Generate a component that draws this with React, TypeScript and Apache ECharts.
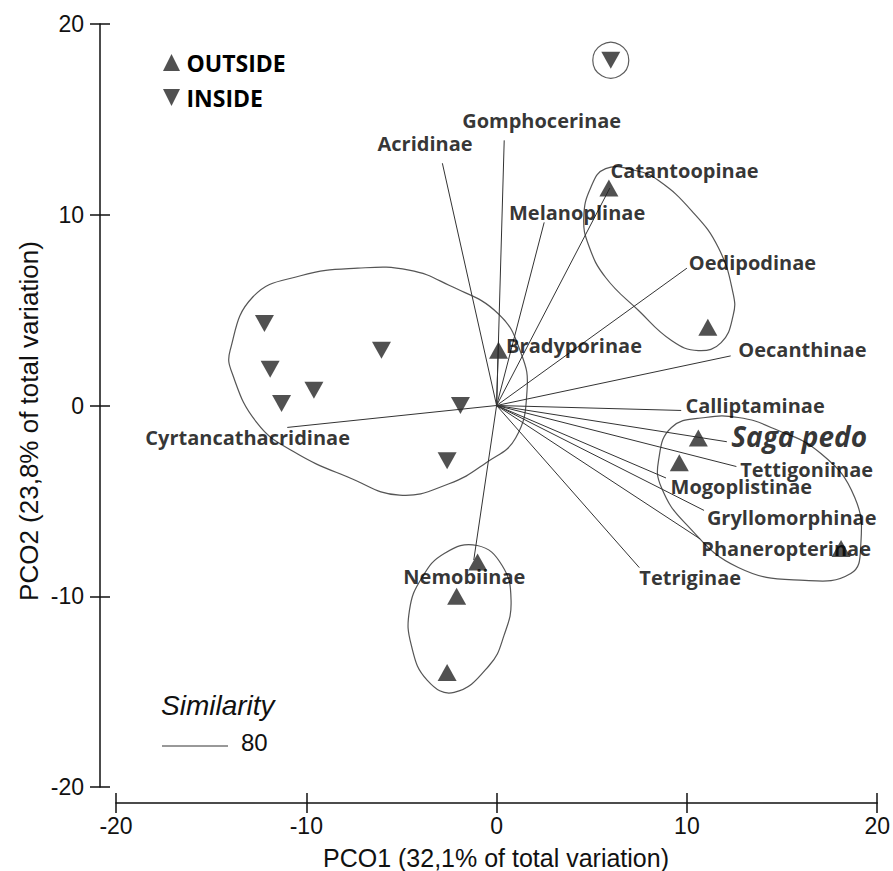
import React, { useEffect, useRef } from "react";
import * as echarts from "echarts";

// ---- data (PCO1, PCO2) ----
const outsidePoints: [number, number][] = [
  [5.9, 11.4], [11.1, 4.1], [0.1, 2.9], [10.6, -1.7], [9.6, -3.0],
  [18.1, -7.5], [-1.0, -8.2], [-2.1, -10.0], [-2.6, -14.0],
];
const insidePoints: [number, number][] = [
  [-12.2, 4.3], [-11.9, 1.9], [-11.3, 0.1], [-9.6, 0.8], [-6.05, 2.9],
  [-1.9, 0.0], [-2.6, -2.9], [6.0, 18.1],
];
const circledPoints: [number, number][] = [[6.0, 18.1]];

const vectorNames = [
  "Acridinae", "Gomphocerinae", "Melanoplinae", "Catantoopinae", "Oedipodinae",
  "Oecanthinae", "Bradyporinae", "Calliptaminae", "Saga pedo", "Tettigoniinae",
  "Mogoplistinae", "Gryllomorphinae", "Phaneropterinae", "Tetriginae",
  "Nemobiinae", "Cyrtancathacridinae",
];
const vectorEnds: [number, number][] = [
  [-2.85, 12.7], [0.4, 13.9], [2.5, 9.6], [5.95, 11.4], [10.0, 7.2],
  [12.3, 2.6], [0.1, 3.4], [9.7, -0.26], [12.1, -1.9], [12.6, -3.2],
  [8.9, -3.8], [10.9, -5.5], [10.7, -7.0], [7.5, -8.5],
  [-1.2, -8.1], [-11.0, -1.15],
];
const labelAnchors: [number, number][] = [
  [-6.26, 13.75], [-1.81, 14.94], [0.65, 10.12], [5.99, 12.32], [10.1, 7.5],
  [12.7, 2.94], [0.5, 3.14], [9.92, 0.0], [12.33, -1.6], [12.8, -3.35],
  [9.14, -4.25], [11.05, -5.87], [10.76, -7.49], [7.5, -9.02],
  [-4.9, -8.96], [-18.46, -1.68],
];

// similarity (80) contours
const contourLeft: [number, number][] = [
  [-14.0, 2.9], [-12.8, 5.7], [-10.3, 6.8], [-7.3, 7.2], [-4.6, 7.1],
  [-2.5, 6.3], [0.1, 4.8], [1.3, 2.7], [1.6, 0.8], [1.0, -1.7],
  [-0.55, -3.0], [-2.5, -4.1], [-5.1, -4.7], [-7.7, -3.8], [-10.7, -2.4],
  [-12.6, -0.9], [-13.9, 1.7],
];
const contourTop: [number, number][] = [
  [5.73, 12.42], [4.95, 11.43], [4.58, 9.85], [4.84, 8.39], [5.73, 6.71],
  [7.46, 4.98], [9.19, 3.41], [10.6, 2.88], [11.8, 3.3], [12.43, 4.72],
  [12.43, 5.87], [11.65, 8.28], [10.24, 10.22], [8.51, 11.79], [7.3, 12.32],
];
const contourRight: [number, number][] = [
  [10.97, -0.63], [9.19, -1.15], [8.51, -2.88], [8.66, -4.3], [9.92, -6.18],
  [12.7, -8.49], [16.2, -9.17], [18.61, -8.81], [19.13, -7.44], [18.82, -4.82],
  [17.04, -2.52], [14.42, -1.15], [12.7, -0.63],
];
const contourBottom: [number, number][] = [
  [-1.02, -7.34], [0.29, -8.39], [0.76, -10.22], [0.39, -12.05], [-0.39, -13.63],
  [-2.23, -15.04], [-3.64, -14.41], [-4.48, -12.58], [-4.58, -10.74], [-3.95, -9.07],
  [-2.75, -7.76],
];
const contours = [contourLeft, contourTop, contourRight, contourBottom];

const xTitle = "PCO1 (32,1% of total variation)";
const yTitle = "PCO2 (23,8% of total variation)";
const similarityTitle = "Similarity";
const similarityLevel = "80";

const UP = "path://M5,0L10,10L0,10Z";
const DOWN = "path://M0,0L10,0L5,10Z";
const MARK = "#262626";
const AXIS_FONT = "'Liberation Sans', Arial, sans-serif";
const LABEL_FONT = "'Open Sans', 'Noto Sans', sans-serif";

export default function App() {
  const ref = useRef<HTMLDivElement>(null);
  useEffect(() => {
    if (!ref.current) return;
    const chart = echarts.init(ref.current, undefined, { renderer: "svg" });
    const axisCommon = {
      type: "value" as const,
      min: -20,
      max: 20,
      interval: 10,
      splitLine: { show: false },
    };
    const tickStyle = { color: "#111", width: 1.5 };
    const option: any = {
      animation: false,
      backgroundColor: "#ffffff",
      grid: { left: 116, right: 13, top: 24, bottom: 84 },
      xAxis: [
        {
          ...axisCommon,
          position: "bottom",
          offset: 16,
          axisLine: { show: true, onZero: false, lineStyle: tickStyle },
          axisTick: { show: true, inside: false, length: 10, lineStyle: tickStyle },
          axisLabel: { fontFamily: AXIS_FONT, fontSize: 23, color: "#111", margin: 11 },
        },
        {
          ...axisCommon,
          position: "bottom",
          offset: 16,
          axisLine: { show: false, onZero: false },
          axisTick: { show: true, inside: true, length: 10, lineStyle: tickStyle },
          axisLabel: { show: false },
        },
      ],
      yAxis: [
        {
          ...axisCommon,
          position: "left",
          offset: 16,
          axisLine: { show: true, onZero: false, lineStyle: tickStyle },
          axisTick: { show: true, inside: false, length: 10, lineStyle: tickStyle },
          axisLabel: { fontFamily: AXIS_FONT, fontSize: 23, color: "#111", margin: 16 },
        },
        {
          ...axisCommon,
          position: "left",
          offset: 16,
          axisLine: { show: false, onZero: false },
          axisTick: { show: true, inside: true, length: 10, lineStyle: tickStyle },
          axisLabel: { show: false },
        },
      ],
      legend: {
        data: ["OUTSIDE", "INSIDE"],
        orient: "vertical",
        left: 158,
        top: 46,
        itemWidth: 20,
        itemHeight: 17,
        itemGap: 12,
        textStyle: { fontFamily: LABEL_FONT, fontWeight: "bold", fontSize: 23, color: "#000" },
      },
      series: [
        {
          type: "custom",
          name: "contours",
          silent: true,
          data: contours.map((_, i) => [i, 0]),
          renderItem: (params: any, api: any) => {
            const pts = contours[params.dataIndex].map((p) => api.coord(p));
            return {
              type: "polygon",
              shape: { points: pts, smooth: 0.45 },
              style: { fill: "none", stroke: "#555", lineWidth: 1.2 },
            };
          },
          z: 1,
        },
        {
          type: "lines",
          name: "vectors",
          coordinateSystem: "cartesian2d",
          silent: true,
          data: vectorEnds.map((e) => ({ coords: [[0, 0], e] })),
          lineStyle: { color: "#333", width: 1, opacity: 1 },
          z: 2,
        },
        {
          type: "scatter",
          name: "OUTSIDE",
          symbol: UP,
          symbolSize: [19, 17],
          itemStyle: { color: MARK },
          data: outsidePoints,
          z: 3,
        },
        {
          type: "scatter",
          name: "INSIDE",
          symbol: DOWN,
          symbolSize: [19, 17],
          itemStyle: { color: MARK },
          data: insidePoints,
          z: 3,
        },
        {
          type: "scatter",
          name: "circled",
          symbol: "circle",
          symbolSize: 36,
          itemStyle: { color: "none", borderColor: "#333", borderWidth: 1.2 },
          data: circledPoints,
          z: 3,
        },
        {
          type: "scatter",
          name: "labels",
          symbolSize: 0,
          silent: true,
          data: vectorNames.map((n, i) => ({
            name: n,
            value: labelAnchors[i],
            label:
              n === "Saga pedo"
                ? { fontSize: 28, fontStyle: "italic", fontWeight: "bold" }
                : undefined,
          })),
          label: {
            show: true,
            position: "right",
            distance: 0,
            formatter: "{b}",
            fontFamily: LABEL_FONT,
            fontWeight: "bold",
            fontSize: 20,
            color: "#000",
          },
          z: 4,
        },
      ],
      graphic: [
        {
          type: "text",
          x: 496,
          y: 858,
          style: {
            text: xTitle,
            fontFamily: AXIS_FONT,
            fontSize: 25,
            fill: "#111",
            textAlign: "center",
            textVerticalAlign: "middle",
          },
        },
        {
          type: "text",
          x: 29,
          y: 421,
          rotation: Math.PI / 2,
          style: {
            text: yTitle,
            fontFamily: AXIS_FONT,
            fontSize: 26,
            fill: "#111",
            textAlign: "center",
            textVerticalAlign: "middle",
          },
        },
        {
          type: "text",
          x: 161,
          y: 705,
          style: {
            text: similarityTitle,
            fontFamily: AXIS_FONT,
            fontStyle: "italic",
            fontSize: 28,
            fill: "#111",
            textAlign: "left",
            textVerticalAlign: "middle",
          },
        },
        {
          type: "line",
          shape: { x1: 162, y1: 746, x2: 228, y2: 746 },
          style: { stroke: "#333", lineWidth: 1 },
        },
        {
          type: "text",
          x: 241,
          y: 742,
          style: {
            text: similarityLevel,
            fontFamily: AXIS_FONT,
            fontSize: 24,
            fill: "#111",
            textAlign: "left",
            textVerticalAlign: "middle",
          },
        },
      ],
    };
    chart.setOption(option);
    return () => chart.dispose();
  }, []);
  return (
    <div
      ref={ref}
      style={{ position: "absolute", left: 0, top: 0, width: 893, height: 871, background: "#fff" }}
    />
  );
}
